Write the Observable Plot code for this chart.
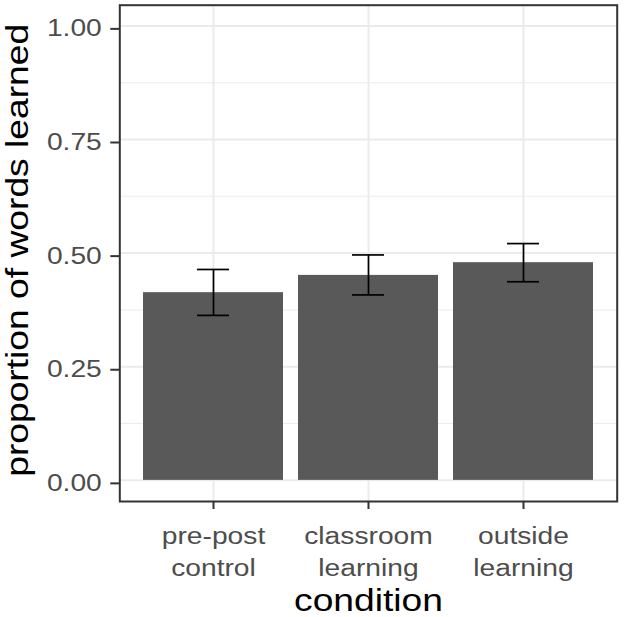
<!DOCTYPE html>
<html>
<head>
<meta charset="utf-8">
<script src="https://cdn.jsdelivr.net/npm/d3@7"></script>
<script src="https://cdn.jsdelivr.net/npm/@observablehq/plot@0.6"></script>
<style>
  html, body { margin: 0; padding: 0; background: white; }
</style>
</head>
<body>
<div id="chart"></div>
<script>
const conditions = ["pre-post\ncontrol", "classroom\nlearning", "outside\nlearning"];
const proportions = [0.413, 0.451, 0.479];
const lowers = [0.363, 0.408, 0.437];
const uppers = [0.464, 0.496, 0.521];
const yTicks = [0, 0.25, 0.5, 0.75, 1];
const yMinorTicks = [0.125, 0.375, 0.625, 0.875];
const xTitle = "condition";
const yTitle = "proportion of words learned";

const rows = conditions.map((c, i) => ({condition: c, value: proportions[i], lo: lowers[i], hi: uppers[i]}));

const tickFont = 23.5;
const titleFont = 31;

const plot = Plot.plot({
  width: 624,
  height: 617,
  marginLeft: 119.3,
  marginRight: 7.3,
  marginTop: 4.7,
  marginBottom: 116,
  style: {fontFamily: "'Liberation Sans', Arial, sans-serif", background: "white"},
  x: {type: "band", domain: conditions, paddingInner: 0.1, paddingOuter: 0.15, align: 0.5},
  y: {domain: [-0.0465, 1.0455]},
  marks: [
    Plot.gridY(yMinorTicks, {stroke: "#EBEBEB", strokeOpacity: 1, strokeWidth: 1.1}),
    Plot.gridY(yTicks, {stroke: "#EBEBEB", strokeOpacity: 1, strokeWidth: 2}),
    Plot.gridX(conditions, {stroke: "#EBEBEB", strokeOpacity: 1, strokeWidth: 2}),
    Plot.barY(rows, {x: "condition", y: "value", fill: "#595959"}),
    Plot.ruleX(rows, {x: "condition", y1: "lo", y2: "hi", stroke: "black", strokeWidth: 1.7}),
    Plot.tickY(rows, {x: "condition", y: "lo", stroke: "black", strokeWidth: 1.7, insetLeft: 54, insetRight: 54}),
    Plot.tickY(rows, {x: "condition", y: "hi", stroke: "black", strokeWidth: 1.7, insetLeft: 54, insetRight: 54}),
    Plot.frame({stroke: "#333333", strokeWidth: 2}),
    Plot.axisY(yTicks, {tickFormat: d3.format(".2f"), tickSize: 9, tickPadding: 9, fontSize: tickFont, fill: "#4D4D4D", stroke: "#333333", strokeWidth: 2, dy: 3, label: null}),
    Plot.axisX({tickSize: 8, tickPadding: 12, fontSize: tickFont, lineHeight: 32 / tickFont, fill: "#4D4D4D", stroke: "#333333", strokeWidth: 2, label: null}),
    Plot.text([xTitle], {text: d => d, frameAnchor: "bottom", textAnchor: "middle", lineAnchor: "bottom", dy: 109.5, fontSize: titleFont, fill: "black"}),
    Plot.text([yTitle], {text: d => d, frameAnchor: "left", textAnchor: "middle", lineAnchor: "bottom", rotate: -90, dx: -92, dy: -3, fontSize: titleFont, fill: "black"})
  ]
});

document.getElementById("chart").appendChild(plot);

// glyphs in the reference are drawn ~1.2x wider along the reading direction
function stretchText(svg, k) {
  svg.querySelectorAll("text").forEach(t => {
    const spans = t.querySelectorAll("tspan");
    const targets = spans.length ? Array.from(spans) : [t];
    targets.forEach(el => {
      const len = el.getComputedTextLength();
      if (len > 0) {
        el.setAttribute("textLength", (len * k).toFixed(2));
        el.setAttribute("lengthAdjust", "spacingAndGlyphs");
      }
    });
  });
}
stretchText(plot, 1.2);
</script>
</body>
</html>
